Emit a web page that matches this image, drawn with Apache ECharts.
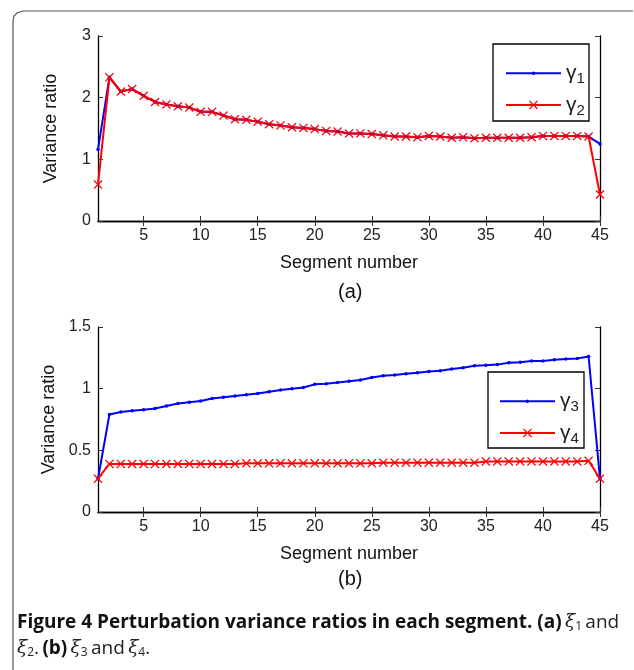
<!DOCTYPE html>
<html>
<head>
<meta charset="utf-8">
<script src="https://cdn.jsdelivr.net/npm/echarts@6/dist/echarts.min.js"></script>
<style>
  html, body { margin: 0; padding: 0; background: #fff; }
  #chart { width: 634px; height: 670px; }
</style>
</head>
<body>
<div id="chart"></div>
<script>
const segments = [1, 2, 3, 4, 5, 6, 7, 8, 9, 10, 11, 12, 13, 14, 15, 16, 17, 18, 19, 20, 21, 22, 23,
    24, 25, 26, 27, 28, 29, 30, 31, 32, 33, 34, 35, 36, 37, 38, 39, 40, 41, 42, 43, 44, 45];
const xTicks = [5, 10, 15, 20, 25, 30, 35, 40, 45];

// panel (a)
const gamma1 = [1.16, 2.33, 2.10, 2.14, 2.03, 1.93, 1.89, 1.86, 1.84, 1.77, 1.77, 1.71, 1.65, 1.64, 1.61,
    1.57, 1.55, 1.52, 1.51, 1.49, 1.46, 1.45, 1.42, 1.42, 1.41, 1.39, 1.37, 1.37, 1.36, 1.38,
    1.37, 1.35, 1.36, 1.34, 1.35, 1.35, 1.35, 1.35, 1.36, 1.38, 1.38, 1.38, 1.38, 1.37, 1.25];
const gamma2 = [0.59, 2.33, 2.10, 2.14, 2.03, 1.93, 1.89, 1.86, 1.84, 1.77, 1.77, 1.71, 1.65, 1.64, 1.61,
    1.57, 1.55, 1.52, 1.51, 1.49, 1.46, 1.45, 1.42, 1.42, 1.41, 1.39, 1.37, 1.37, 1.36, 1.38,
    1.37, 1.35, 1.36, 1.34, 1.35, 1.35, 1.35, 1.35, 1.36, 1.38, 1.38, 1.38, 1.38, 1.37, 0.43];

// panel (b)
const gamma3 = [0.27, 0.79, 0.81, 0.82, 0.83, 0.84, 0.86, 0.88, 0.89, 0.90, 0.92, 0.93, 0.94, 0.95, 0.96,
    0.975, 0.99, 1.00, 1.01, 1.035, 1.04, 1.05, 1.06, 1.07, 1.09, 1.105, 1.11, 1.12, 1.13, 1.14,
    1.145, 1.16, 1.17, 1.185, 1.19, 1.195, 1.21, 1.215, 1.225, 1.225, 1.235, 1.24, 1.245, 1.26, 0.27];
const gamma4 = [0.27, 0.39, 0.39, 0.39, 0.39, 0.39, 0.39, 0.39, 0.39, 0.39, 0.39, 0.39, 0.39, 0.395, 0.395,
    0.395, 0.395, 0.395, 0.395, 0.395, 0.395, 0.395, 0.395, 0.395, 0.395, 0.40, 0.40, 0.40, 0.40, 0.40,
    0.40, 0.40, 0.40, 0.40, 0.41, 0.41, 0.41, 0.41, 0.41, 0.41, 0.41, 0.41, 0.41, 0.415, 0.27];

const FONT = '"Liberation Sans", Arial, sans-serif';
const CROSS = 'path://M0,1L1,0L5,4L9,0L10,1L6,5L10,9L9,10L5,6L1,10L0,9L4,5Z';

function pairs(vals) {
    return segments.map(function (s, i) { return [s, vals[i]]; });
}

function xAxes(gridIndex) {
    const base = {
        type: 'value', gridIndex: gridIndex, min: 1, max: 45,
        splitLine: { show: false },
        axisLine: { show: true, lineStyle: { color: '#000', width: 1.3 } },
        axisTick: { show: true, inside: true, length: 5, customValues: xTicks, lineStyle: { color: '#333' } }
    };
    return [
        Object.assign({}, base, {
            position: 'bottom',
            name: 'Segment number', nameLocation: 'middle', nameGap: 33,
            nameTextStyle: { fontFamily: FONT, fontSize: 18, color: '#111' },
            axisLabel: { customValues: xTicks, fontFamily: FONT, fontSize: 16, color: '#222', margin: 7 }
        }),
        Object.assign({}, base, { position: 'top', axisLabel: { show: false } })
    ];
}

function yAxes(gridIndex, max, interval) {
    const base = {
        type: 'value', gridIndex: gridIndex, min: 0, max: max, interval: interval,
        splitLine: { show: false },
        axisLine: { show: true, lineStyle: { color: '#000', width: 1.3 } },
        axisTick: { show: true, inside: true, length: 5, lineStyle: { color: '#333' } }
    };
    return [
        Object.assign({}, base, {
            position: 'left',
            name: 'Variance ratio', nameLocation: 'middle', nameGap: 38,
            nameTextStyle: { fontFamily: FONT, fontSize: 18, color: '#111' },
            axisLabel: { fontFamily: FONT, fontSize: 16, color: '#222', margin: 7 }
        }),
        Object.assign({}, base, { position: 'right', axisLabel: { show: false } })
    ];
}

// one legend per entry so that each keeps its own marker size; the box is drawn separately
function legendItem(name, left, centerY, markSize) {
    const h = markSize / 0.8;
    return {
        data: [name], left: left, top: centerY - h / 2, padding: 0,
        itemWidth: 55, itemHeight: h,
        formatter: function (n) {
            return '{g|γ}{s|' + n.slice(1) + '}';
        },
        textStyle: {
            rich: {
                g: { fontFamily: FONT, fontSize: 21, color: '#222', lineHeight: 22 },
                s: { fontFamily: FONT, fontSize: 15, color: '#222', padding: [12, 0, 0, 0] }
            }
        }
    };
}

function blueSeries(name, vals, gi) {
    return {
        name: name, type: 'line', xAxisIndex: gi * 2, yAxisIndex: gi * 2, data: pairs(vals),
        symbol: 'circle', symbolSize: 3.5, showSymbol: true,
        lineStyle: { color: '#0000ff', width: 2 }, itemStyle: { color: '#0000ff' },
        animation: false
    };
}

function redSeries(name, vals, gi) {
    return {
        name: name, type: 'line', xAxisIndex: gi * 2, yAxisIndex: gi * 2, data: pairs(vals),
        symbol: CROSS, symbolSize: 9, showSymbol: true,
        lineStyle: { color: '#ff0000', width: 2 }, itemStyle: { color: '#ff0000' },
        animation: false
    };
}

const chart = echarts.init(document.getElementById('chart'));
chart.setOption({
    backgroundColor: '#fff',
    animation: false,
    grid: [
        { left: 98, top: 36, right: 34, height: 185 },
        { left: 98, top: 327, right: 34, height: 185 }
    ],
    xAxis: xAxes(0).concat(xAxes(1)),
    yAxis: yAxes(0, 3, 1).concat(yAxes(1, 1.5, 0.5)),
    legend: [
        legendItem('γ1', 505, 65, 3.5),
        legendItem('γ2', 505, 100, 9),
        legendItem('γ3', 499, 393, 3.5),
        legendItem('γ4', 499, 428, 9)
    ],
    series: [
        blueSeries('γ1', gamma1, 0),
        redSeries('γ2', gamma2, 0),
        blueSeries('γ3', gamma3, 1),
        redSeries('γ4', gamma4, 1)
    ],
    graphic: [
        {
            // figure frame, rounded top-left corner
            type: 'polyline',
            shape: { points: [[13, 670], [13, 21], [14, 16], [17, 13], [21, 11.5], [24, 11], [633, 11]] },
            style: { fill: null, stroke: '#555', lineWidth: 1.2 }
        },
        {
            type: 'rect', z: -1,
            shape: { x: 493, y: 44, width: 96, height: 77 },
            style: { fill: '#fff', stroke: '#000', lineWidth: 1.3 }
        },
        {
            type: 'rect', z: -1,
            shape: { x: 488, y: 372, width: 96, height: 76 },
            style: { fill: '#fff', stroke: '#000', lineWidth: 1.3 }
        },
        {
            type: 'text', left: 338, top: 282,
            style: { text: '(a)', font: '20px "Liberation Sans", Arial, sans-serif', fill: '#111' }
        },
        {
            type: 'text', left: 338, top: 569,
            style: { text: '(b)', font: '20px "Liberation Sans", Arial, sans-serif', fill: '#111' }
        },
        {
            type: 'text', left: 17, top: 613,
            style: {
                text: '{b|Figure 4 Perturbation variance ratios in each segment. (a)} {i|ξ}{s|1} {r|and}\n' +
                      '{i|ξ}{s|2}{r|.} {b|(b)} {i|ξ}{s|3} {r|and} {i|ξ}{s|4}{r|.}',
                rich: {
                    b: { fontFamily: '"Open Sans", sans-serif', fontWeight: 'bold', fontSize: 19, fill: '#111', lineHeight: 26 },
                    r: { fontFamily: '"Open Sans", sans-serif', fontSize: 19, fill: '#222', lineHeight: 26 },
                    i: { fontFamily: '"DejaVu Serif", serif', fontStyle: 'italic', fontSize: 18.5, fill: '#222', lineHeight: 26 },
                    s: { fontFamily: '"Open Sans", sans-serif', fontSize: 12, fill: '#222', padding: [9, 0, 0, 0] }
                }
            }
        }
    ]
});
</script>
</body>
</html>
